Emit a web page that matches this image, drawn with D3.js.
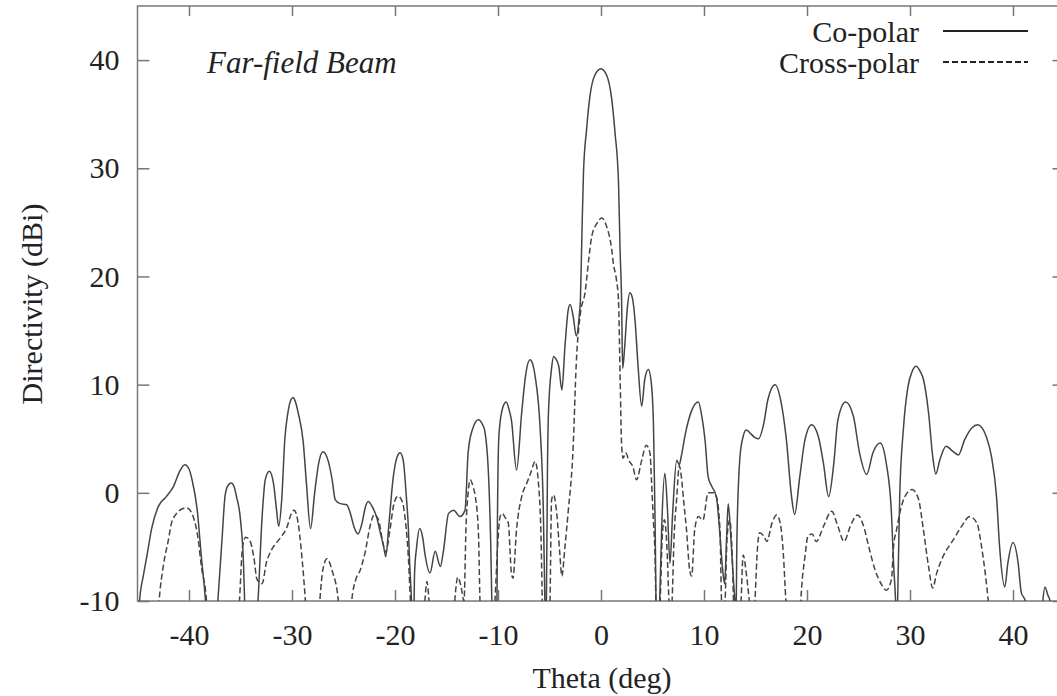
<!DOCTYPE html>
<html><head><meta charset="utf-8">
<script src="https://cdn.jsdelivr.net/npm/d3@7"></script>
<style>
html,body{margin:0;padding:0;background:#fff;}
svg text{font-family:"Liberation Serif","Times New Roman",serif;fill:#222;}
</style></head>
<body><svg id="c" width="1057" height="696"></svg>
<script>
// ---- data ----
const xTicks = [-40,-30,-20,-10,0,10,20,30,40];
const yTicks = [-10,0,10,20,30,40];
const seriesNames = ["Co-polar","Cross-polar"];
const coTheta = [-45,-44.8,-44.4,-44.1,-43.6,-43.0,-42.2,-41.5,-40.9,-40.4,-40.0,-39.7,-39.2,-38.8,-38.4,-38.2,
 -37.4,-37.2,-36.8,-36.5,-36.2,-35.9,-35.6,-35.4,-35.0,-34.7,-34.6,-34.4,
 -33.5,-33.3,-32.9,-32.6,-32.2,-31.8,-31.5,-31.3,-31.0,-30.7,-30.4,-30.1,-29.9,-29.7,-29.4,-28.9,-28.6,-28.2,
 -27.8,-27.4,-27.0,-26.5,-26.1,-25.8,-25.3,-24.7,-24.3,-24.0,-23.6,-23.2,-22.9,-22.6,-22.2,-21.8,-21.4,-21.1,-20.9,
 -20.6,-20.2,-19.8,-19.5,-19.2,-18.9,-18.7,-18.6,-18.4,-18.3,-18.2,-18.1,-17.9,-17.6,-17.3,-17.1,-16.6,-16.1,-15.6,-15.3,
 -14.8,-14.3,-13.7,-13.2,-12.9,-12.5,-11.9,-11.5,-11.3,-10.9,-10.7,-10.6,-10.5,-10.2,-10.1,-10.05,-9.9,-9.5,-9.2,-8.9,-8.7,
 -8.2,-7.7,-7.3,-6.9,-6.6,-6.4,-5.9,-5.6,-5.45,-5.4,-5.3,-5.2,-5.1,-4.8,-4.6,-4.4,-4.1,-3.8,-3.5,-3.2,-3.0,-2.7,-2.4,
 -2.1,-2.0,-1.85,-1.7,-1.4,-1.07,-0.6,0,0.55,1.04,1.36,1.7,1.85,2.0,2.1,2.3,2.55,2.8,3.05,3.3,3.6,3.95,4.25,4.6,4.9,
 5.1,5.25,5.4,5.6,5.7,5.9,6.2,6.45,6.7,6.95,7.35,7.6,7.8,8.2,8.8,9.45,9.8,10.1,10.4,10.75,11.2,11.5,11.8,12.0,12.2,
 12.35,12.6,12.85,13.0,13.1,13.2,13.5,13.8,14.1,14.5,14.95,15.3,15.8,16.2,16.9,17.5,18.0,18.5,18.8,19.3,19.8,20.45,
 21.1,21.6,22.1,22.6,23.0,23.75,24.5,25.1,25.8,26.4,27.1,27.7,28.2,28.4,28.6,28.7,28.8,29.0,29.35,29.8,30.2,30.6,31.0,
 31.3,31.8,32.2,32.5,32.9,33.5,34.2,34.7,35.3,36.0,36.6,37.0,37.4,37.9,38.4,38.7,39.2,39.5,40.0,40.5,40.8,41.2,41.4,
 42.7,42.9,43.1,43.4,43.6,43.8,45];
const coDir = [-13,-10,-7.5,-5.9,-3.2,-1.3,-0.35,0.6,2.0,2.6,2.2,1.2,-1.6,-5.9,-10,-13,
 -13,-10,-4.4,-0.3,0.7,0.9,0.5,-0.3,-2.5,-6.8,-10,-13,
 -13,-10,-2.2,1.2,2.0,0.9,-1.6,-3.1,-0.65,4.9,7.4,8.6,8.8,8.5,7.4,4.6,0.9,-3.3,
 0,2.8,3.8,3.0,1.2,-0.65,-1.0,-1.1,-2.0,-3.1,-3.8,-2.8,-1.4,-0.8,-1.3,-2.2,-3.8,-5.0,-5.9,
 -3.0,1.2,3.3,3.7,3.0,-0.35,-3.3,-6,-10,-13,-13,-7.4,-5.0,-3.3,-4.2,-5.6,-7.4,-5.4,-6.8,-5.4,
 -1.9,-1.6,-2.2,-1.6,3.7,5.8,6.75,6.3,5.8,1.2,-5,-10,-13,-13,-10,-2,5.5,8.0,8.4,7.6,6.75,
 2.1,7.4,11.0,12.3,11.8,10.8,5.8,-1.6,-10,-13,-10,2,7.4,11.5,12.6,12.4,11.7,9.5,13.5,16.8,17.4,16.3,14.5,
 16.5,17.8,24,29.6,33.6,36.7,38.6,39.2,38.6,36.4,33.3,28.7,22.5,17.8,11.5,13.5,17,18.5,18,16,11.7,8.0,10.5,11.4,10,
 6,-2.7,-13,-13,-10,-3,1.8,-1.5,-6.5,-2,3.0,2.6,3.4,5.5,7.6,8.4,7.0,4.9,1.5,0.6,-0.35,-3.3,-7,-8.4,-4,
 -1.0,-4,-8,-10,-12,-4,3.4,5.2,5.8,5.5,5.1,5.0,6.4,8.6,10.0,8.3,4.9,-0.35,-2.0,1.5,4.9,6.3,
 5.2,2.7,-0.35,2.7,6.75,8.4,7.1,3.7,1.7,3.7,4.6,2.7,-1.9,-6.5,-10,-13,-10,-0.35,5.8,9.8,11.2,11.7,11.2,
 10.5,7.4,3.4,1.75,3.05,4.3,3.8,3.5,4.9,6.0,6.3,6.0,5.2,3.4,-0.35,-5,-8.7,-6.5,-4.6,-6.5,-9.2,-10,-13,
 -13,-10,-8.7,-9.5,-10,-13,-13];
const crossTheta = [-43.1,-42.9,-42.5,-42.0,-41.7,-41.2,-40.7,-40.2,-39.6,-39.1,-38.8,-38.3,-38.1,
 -35.3,-35.1,-34.8,-34.5,-34.1,-33.7,-33.4,-32.9,-32.5,-32.0,-31.5,-31.0,-30.5,-30.1,-29.8,-29.4,-29.1,-28.7,-28.5,
 -27.5,-27.3,-27.0,-26.6,-26.1,-25.5,-25.3,-24.4,-24.2,-23.8,-23.4,-22.9,-22.4,-22.0,-21.6,-21.2,-20.9,-20.5,-20.1,
 -19.7,-19.3,-19.0,-18.7,-18.5,-18.3,-17.3,-17.1,-16.9,-16.7,-16.5,-14.4,-14.2,-13.9,-13.6,-13.3,-13.1,-12.9,-12.7,
 -12.4,-12.2,-11.9,-11.75,-11.6,-10.5,-10.3,-10.0,-9.8,-9.6,-9.3,-9.0,-8.7,-8.55,-8.2,-7.7,-7.2,-6.8,-6.4,-6.1,-5.8,
 -5.7,-5.6,-5.1,-4.95,-4.8,-4.6,-4.3,-4.0,-3.8,-3.5,-3.2,-2.7,-2.4,-2.0,-1.55,-1.2,-0.9,-0.4,0.07,0.55,1.04,1.2,1.5,
 1.7,1.85,2.0,2.15,2.4,2.7,3.1,3.45,3.95,4.4,4.75,4.9,5.05,5.25,5.4,5.6,5.75,5.95,6.15,6.4,6.6,6.75,6.9,7.1,7.35,7.6,
 7.8,8.05,8.3,8.6,8.8,9.1,9.45,9.9,10.4,10.9,11.2,11.55,11.7,11.85,12.05,12.25,12.5,12.75,12.95,13.5,13.6,13.8,14.1,
 14.4,14.6,14.85,14.95,15.2,15.4,15.8,16.1,16.6,17.05,17.4,17.7,17.95,18.1,19.3,19.4,19.8,20.1,20.5,20.9,21.6,22.4,
 23.0,23.6,24.2,24.9,25.5,26.0,26.6,27.25,27.7,28.2,28.4,28.7,29.0,29.5,30.2,30.8,31.3,31.8,32.2,32.6,33.2,34.2,35.0,
 35.8,36.5,36.95,37.3,37.6,37.8];
const crossDir = [-13,-10,-6.8,-4.35,-2.8,-1.9,-1.5,-1.4,-2.2,-4.35,-6.8,-10,-13,
 -13,-10,-5,-4.1,-4.4,-6,-8.0,-8.4,-6.5,-5.3,-4.6,-4.0,-3.2,-2.0,-1.6,-2.8,-5.3,-10,-13,
 -13,-10,-7.1,-6.1,-7.2,-10,-13,-13,-10,-8,-7.2,-5.5,-3.0,-2.0,-2.5,-4.5,-5.5,-3.5,-1.0,
 -0.3,-0.8,-2.5,-6,-10,-13,-13,-10,-8.2,-10,-13,-13,-10,-7.8,-8.6,-10,-3,0,1.2,
 0.5,-0.35,-3.7,-10,-13,-13,-10,-4.35,-2.2,-1.9,-2.3,-2.8,-7.4,-7.9,-3.4,-0.35,0.9,1.9,2.9,1.2,-5,
 -10,-13,-13,-10,-0.65,-0.2,-1.9,-5.6,-7.7,-5,-1.9,4.3,12.0,16.6,18.5,21.5,23.7,24.9,25.4,24.6,22.5,21.2,19.7,
 17.8,11,4.5,3.2,3.7,3.0,2.4,1.2,3.0,4.4,3.7,1.2,-1.9,-6,-13,-13,-10,-4,-2.5,-5,-10,-12,-10,-4,-0.5,2.5,
 1.5,-1,-3.4,-7.1,-7.7,-3.4,-2.2,-2.5,0.0,0.0,-0.35,-3.4,-10,-12,-10,-4,-2.5,-6,-12,-12,-10,-5.75,-7.4,
 -10,-12,-12,-10,-5,-3.7,-4.0,-4.5,-2.8,-2.05,-2.8,-5.6,-10,-12,-12,-10,-5.9,-4.0,-3.8,-4.5,-3.1,-1.7,
 -3.1,-4.5,-3.1,-2.05,-3.1,-5.0,-7.1,-8.5,-9.0,-8.0,-5,-3.4,-1.9,-0.35,0.3,-0.5,-3.4,-6.8,-8.8,-7.4,-5.9,-4.35,-3.1,
 -2.2,-2.8,-5.0,-7.4,-10,-12];
const titleText = "Far-field Beam";
const xLabel = "Theta (deg)";
const yLabel = "Directivity (dBi)";

// ---- chart ----
const svg = d3.select("#c");
const x = d3.scaleLinear().domain([-45,45]).range([137.5,1064.5]);
const y = d3.scaleLinear().domain([-10,45]).range([601,6]);
const axisColor = "#777";
const fmt = d => String(d);

svg.append("defs").append("clipPath").attr("id","clip")
  .append("rect").attr("x",x(-45)).attr("y",y(45)).attr("width",x(45)-x(-45)).attr("height",y(-10)-y(45));

function styleAxis(g){
  g.select(".domain").remove();
  g.selectAll(".tick line").attr("stroke",axisColor).attr("stroke-width",1.5);
  g.selectAll(".tick text").attr("font-size",30).attr("fill","#222")
    .attr("font-family",'"Liberation Serif","Times New Roman",serif');
}
svg.append("g").attr("transform",`translate(0,${y(-10)})`)
  .call(d3.axisBottom(x).tickValues(xTicks).tickSize(-11).tickPadding(23).tickFormat(fmt))
  .call(styleAxis);
svg.append("g").attr("transform",`translate(0,${y(45)})`)
  .call(d3.axisTop(x).tickValues(xTicks).tickSize(-10).tickFormat(""))
  .call(styleAxis);
svg.append("g").attr("transform",`translate(${x(-45)},0)`)
  .call(d3.axisLeft(y).tickValues(yTicks).tickSize(-12).tickPadding(18).tickFormat(fmt))
  .call(styleAxis);
svg.append("g").attr("transform",`translate(${x(45)},0)`)
  .call(d3.axisRight(y).tickValues(yTicks).tickSize(-12).tickFormat(""))
  .call(styleAxis);

svg.append("rect").attr("x",x(-45)).attr("y",y(45)).attr("width",x(45)-x(-45)).attr("height",y(-10)-y(45))
  .attr("fill","none").attr("stroke",axisColor).attr("stroke-width",1.5);

const line = d3.line().x(d=>x(d[0])).y(d=>y(d[1])).curve(d3.curveMonotoneX);
const coData = coTheta.map((t,i)=>[t,coDir[i]]);
const crossData = crossTheta.map((t,i)=>[t,crossDir[i]]);
const plot = svg.append("g").attr("clip-path","url(#clip)");
plot.append("path").datum(crossData).attr("d",line).attr("fill","none")
  .attr("stroke","#444").attr("stroke-width",1.5).attr("stroke-dasharray","6,3");
plot.append("path").datum(coData).attr("d",line).attr("fill","none")
  .attr("stroke","#444").attr("stroke-width",1.5);

// texts
svg.append("text").attr("x",207).attr("y",73).attr("font-size",31).attr("font-style","italic").text(titleText);
svg.append("text").attr("x",602).attr("y",688).attr("text-anchor","middle").attr("font-size",30).text(xLabel);
svg.append("text").attr("transform","translate(42,304) rotate(-90)").attr("text-anchor","middle").attr("font-size",30).text(yLabel);

// legend
const leg = [{name:seriesNames[0],dash:null,yy:31},{name:seriesNames[1],dash:"6,3",yy:62}];
leg.forEach(l=>{
  svg.append("text").attr("x",919).attr("y",l.yy+11).attr("text-anchor","end").attr("font-size",30).text(l.name);
  svg.append("line").attr("x1",943).attr("x2",1028).attr("y1",l.yy).attr("y2",l.yy)
    .attr("stroke","#222").attr("stroke-width",2).attr("stroke-dasharray",l.dash);
});
</script></body></html>
